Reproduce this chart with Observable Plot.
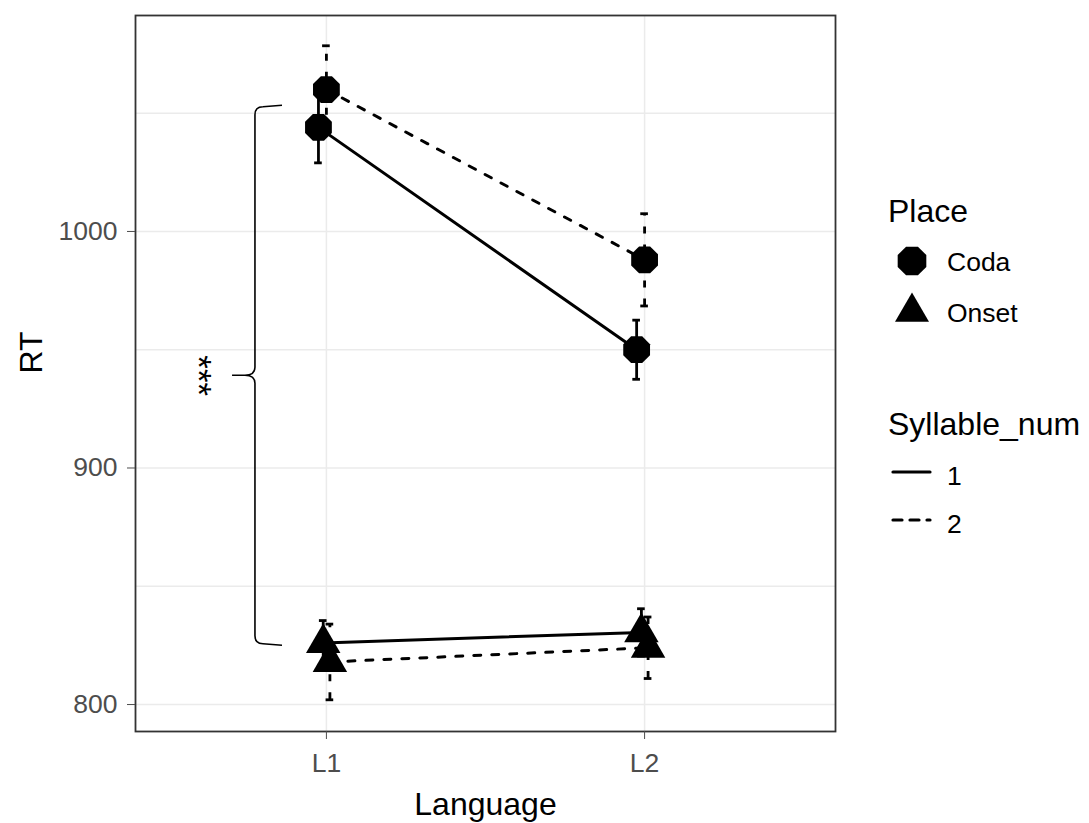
<!DOCTYPE html>
<html>
<head>
<meta charset="utf-8">
<script src="https://cdn.jsdelivr.net/npm/d3@7"></script>
<script src="https://cdn.jsdelivr.net/npm/@observablehq/plot@0.6"></script>
<style>
  body { margin: 0; background: #fff; }
  #chart { position: relative; width: 1089px; height: 823px; font-family: "Liberation Sans", Arial, sans-serif; }
  #chart svg { font-family: "Liberation Sans", Arial, sans-serif; }
</style>
</head>
<body>
<div id="chart"></div>
<script>
// ---- data ----
const languages = ["L1", "L2"];
const places = ["Coda", "Onset"];
const syllableNums = ["1", "2"];

// mean RT (ms) at L1, L2
const codaSyl1 = [1044, 950];
const codaSyl2 = [1060, 988];
const onsetSyl1 = [826, 830.5];
const onsetSyl2 = [818, 824];

// standard errors at L1, L2
const codaSyl1SE = [15, 12.5];
const codaSyl2SE = [18.5, 19.5];
const onsetSyl1SE = [9.5, 10];
const onsetSyl2SE = [16, 13];

const yTicks = [800, 900, 1000];
const yGrid = [800, 850, 900, 950, 1000, 1050];

// significance bracket between the Coda and Onset groups
const bracketFrom = 1052.5;
const bracketTo = 825.5;
const bracketLabel = "***";

// ---- layout ----
const W = 1089, H = 823;
const font = "Liberation Sans, Arial, sans-serif";
const dodge = {"Coda-1": -0.025, "Coda-2": 0, "Onset-1": -0.01, "Onset-2": 0.011};
const bracketX = 0.777, bracketTipX = 0.705, bracketHookX = 0.862, starsX = 0.598;
const dash = "7,11";

const series = [
  {place: "Coda", syl: "1", rt: codaSyl1, se: codaSyl1SE},
  {place: "Coda", syl: "2", rt: codaSyl2, se: codaSyl2SE},
  {place: "Onset", syl: "1", rt: onsetSyl1, se: onsetSyl1SE},
  {place: "Onset", syl: "2", rt: onsetSyl2, se: onsetSyl2SE}
];
const rows = series.flatMap(s => languages.map((lang, i) => ({
  language: lang, place: s.place, syl: s.syl, rt: s.rt[i], se: s.se[i],
  x: i + 1 + dodge[`${s.place}-${s.syl}`]
})));
const caps = rows.flatMap(d => [{...d, cy: d.rt - d.se}, {...d, cy: d.rt + d.se}]);
const bySyl = (arr, s) => arr.filter(d => d.syl === s);
const byPlace = (arr, p) => arr.filter(d => d.place === p);

// octagonal point symbol
const octagon = {
  draw(ctx, size) {
    const R = Math.sqrt(size / Math.PI);
    for (let k = 0; k < 8; ++k) {
      const a = Math.PI / 8 + k * Math.PI / 4;
      const px = R * Math.cos(a), py = R * Math.sin(a);
      k ? ctx.lineTo(px, py) : ctx.moveTo(px, py);
    }
    ctx.closePath();
  }
};

// curly bracket drawn through the plot scales
function brace(index, scales) {
  const X = scales.x(bracketX), tip = scales.x(bracketTipX), hook = scales.x(bracketHookX);
  const y0 = scales.y(bracketFrom), y1 = scales.y(bracketTo), ym = (y0 + y1) / 2;
  const r = 8;
  const p = d3.path();
  p.moveTo(hook, y0 - 1.5);
  p.lineTo(X + r, y0);
  p.quadraticCurveTo(X, y0, X, y0 + r);
  p.lineTo(X, ym - r);
  p.quadraticCurveTo(X, ym, X - 10, ym);
  p.lineTo(tip, ym);
  p.moveTo(X - 10, ym);
  p.quadraticCurveTo(X, ym, X, ym + r);
  p.lineTo(X, y1 - r);
  p.quadraticCurveTo(X, y1, X + r, y1);
  p.lineTo(hook, y1 + 1.5);
  const g = d3.create("svg:path")
    .attr("d", p.toString())
    .attr("fill", "none")
    .attr("stroke", "black")
    .attr("stroke-width", 1.6);
  return g.node();
}

const lineStyle = {stroke: "black", strokeWidth: 3, strokeLinecap: "round"};

const plot = Plot.plot({
  width: W,
  height: H,
  marginLeft: 135,
  marginRight: 254,
  marginTop: 15,
  marginBottom: 92,
  style: {fontFamily: font, background: "white"},
  x: {type: "linear", domain: [0.4, 2.6]},
  y: {domain: [788.6, 1091.3]},
  marks: [
    Plot.gridY(yGrid, {stroke: "#EBEBEB", strokeOpacity: 1, strokeWidth: 1.5}),
    Plot.gridX([1, 2], {stroke: "#EBEBEB", strokeOpacity: 1, strokeWidth: 1.5}),
    Plot.frame({stroke: "#333333", strokeWidth: 1.8}),
    Plot.axisY({ticks: yTicks, tickFormat: d => String(d), tickSize: 8, tickPadding: 10, fontSize: 26.5, color: "#4D4D4D", label: null}),
    Plot.axisX({ticks: [1, 2], tickFormat: v => languages[v - 1], tickSize: 8, tickPadding: 14, fontSize: 26.5, color: "#4D4D4D", label: null}),
    Plot.text(["RT"], {frameAnchor: "left", dx: -104, rotate: -90, fontSize: 32, fill: "black"}),
    Plot.text(["Language"], {frameAnchor: "bottom", dy: 61, lineAnchor: "top", fontSize: 32, fill: "black"}),
    // lines
    Plot.line(bySyl(rows, "1"), {x: "x", y: "rt", z: "place", ...lineStyle}),
    Plot.line(bySyl(rows, "2"), {x: "x", y: "rt", z: "place", ...lineStyle, strokeDasharray: dash}),
    // error bars
    Plot.ruleX(bySyl(rows, "1"), {x: "x", y1: d => d.rt - d.se, y2: d => d.rt + d.se, stroke: "black", strokeWidth: 2.8}),
    Plot.ruleX(bySyl(rows, "2"), {x: "x", y1: d => d.rt - d.se, y2: d => d.rt + d.se, stroke: "black", strokeWidth: 2.8, strokeDasharray: dash}),
    Plot.ruleY(caps, {y: "cy", x1: d => d.x - 0.012, x2: d => d.x + 0.012, stroke: "black", strokeWidth: 2.8}),
    // points
    Plot.dot(byPlace(rows, "Coda"), {x: "x", y: "rt", symbol: octagon, r: 14.5, fill: "black", stroke: "none"}),
    Plot.dot(byPlace(rows, "Onset"), {x: "x", y: "rt", symbol: d3.symbolTriangle, r: 12.8, fill: "black", stroke: "none"}),
    // significance bracket
    brace,
    Plot.text([bracketLabel], {x: starsX, y: (bracketFrom + bracketTo) / 2, text: d => d, rotate: 90, fontSize: 35, fill: "black"})
  ]
});

const chart = document.getElementById("chart");
chart.appendChild(plot);

// ---- legends ----
const leg = d3.select(chart).append("svg")
  .attr("width", W).attr("height", H)
  .style("position", "absolute").style("left", "0px").style("top", "0px")
  .style("pointer-events", "none")
  .style("font-family", font);

leg.append("text").attr("x", 888).attr("y", 222).attr("font-size", 32).attr("fill", "black").text("Place");
const placeKeys = [
  {label: places[0], sym: octagon, area: Math.PI * 15.5 * 15.5, cy: 261},
  {label: places[1], sym: d3.symbolTriangle, area: 500, cy: 312}
];
for (const k of placeKeys) {
  leg.append("path").attr("d", d3.symbol(k.sym, k.area)()).attr("transform", `translate(912,${k.cy})`).attr("fill", "black");
  leg.append("text").attr("x", 947).attr("y", k.cy + 10).attr("font-size", 26.5).attr("fill", "black").text(k.label);
}

leg.append("text").attr("x", 888).attr("y", 435).attr("font-size", 32).attr("fill", "black").text("Syllable_num");
const sylKeys = [
  {label: syllableNums[0], cy: 472, dash: null},
  {label: syllableNums[1], cy: 520, dash: "9,8"}
];
for (const k of sylKeys) {
  leg.append("line").attr("x1", 893).attr("x2", 930).attr("y1", k.cy).attr("y2", k.cy)
    .attr("stroke", "black").attr("stroke-width", 3.2).attr("stroke-linecap", "round")
    .attr("stroke-dasharray", k.dash);
  leg.append("text").attr("x", 947).attr("y", k.cy + 13).attr("font-size", 26.5).attr("fill", "black").text(k.label);
}
</script>
</body>
</html>
